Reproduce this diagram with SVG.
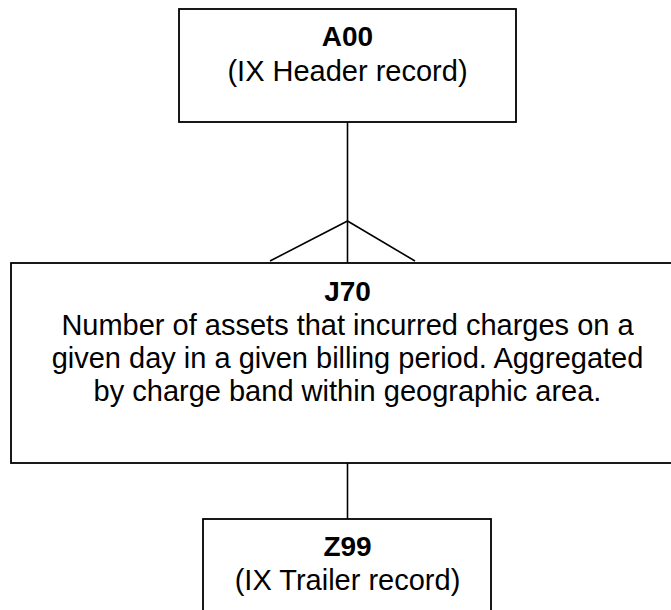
<svg xmlns="http://www.w3.org/2000/svg" width="671" height="610" viewBox="0 0 671 610">
<style>
.box{fill:#fff;stroke:#000;stroke-width:1.8}
.conn line{stroke:#000;stroke-width:1.6;fill:none}
text{font-family:"Liberation Sans",Arial,sans-serif;fill:#000;text-anchor:middle;font-size:29px}
.t{font-weight:bold;font-size:28px}
</style>
<rect width="671" height="610" fill="#fff"/>
<g id="connectors" class="conn">
<line x1="347.5" y1="122" x2="347.5" y2="263"/>
<line x1="347.5" y1="221" x2="270" y2="261"/>
<line x1="347.5" y1="221" x2="415" y2="261"/>
<line x1="347.5" y1="463" x2="347.5" y2="519"/>
</g>
<g id="A00">
<rect class="box" x="179" y="9" width="337" height="113"/>
<text class="t" x="347.5" y="46">A00</text>
<text x="347.5" y="80.5">(IX Header record)</text>
</g>
<g id="J70">
<rect class="box" x="11" y="263" width="680" height="200"/>
<text class="t" x="347.5" y="300.5">J70</text>
<text x="347.5" y="334.5">Number of assets that incurred charges on a</text>
<text x="347.5" y="368">given day in a given billing period. Aggregated</text>
<text x="347.5" y="401">by charge band within geographic area.</text>
</g>
<g id="Z99">
<rect class="box" x="203" y="519" width="288" height="110"/>
<text class="t" x="347.5" y="556">Z99</text>
<text x="347.5" y="590">(IX Trailer record)</text>
</g>
</svg>
